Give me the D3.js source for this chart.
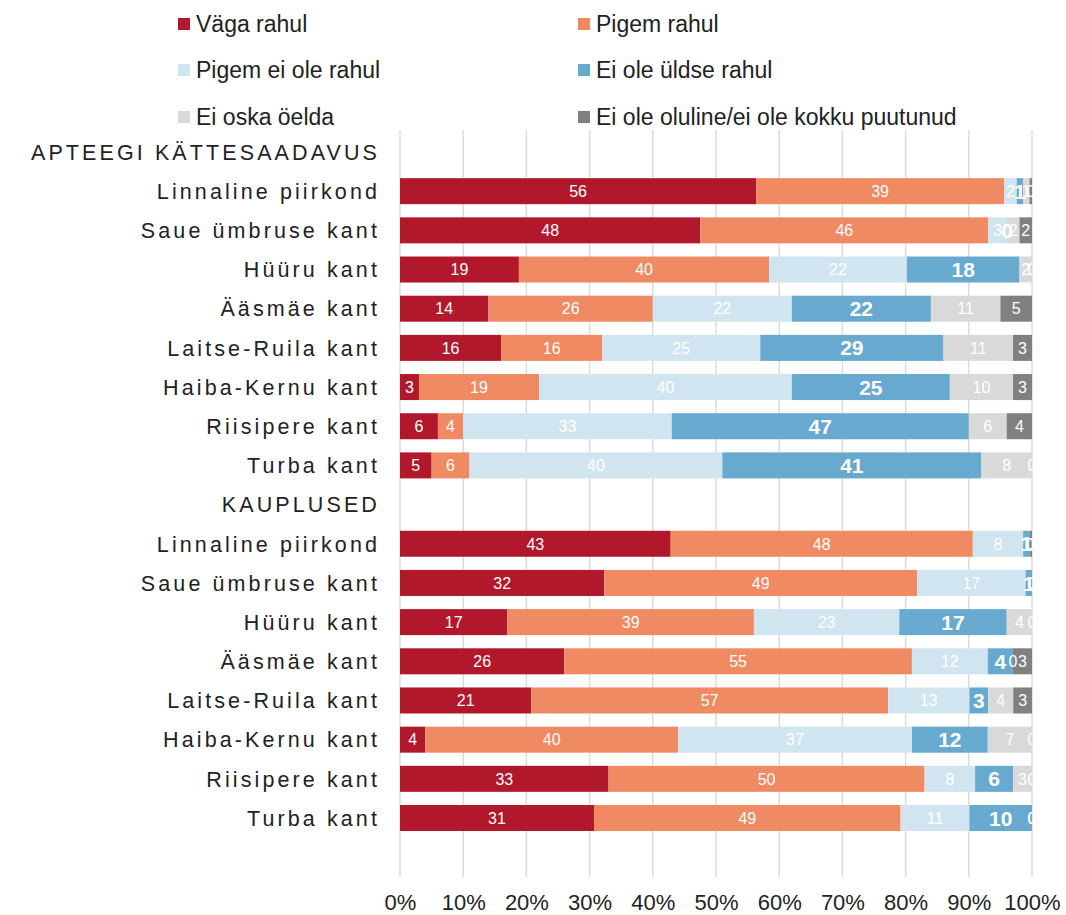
<!DOCTYPE html>
<html><head><meta charset="utf-8">
<script src="https://cdn.jsdelivr.net/npm/d3@7"></script>
<style>
html,body{margin:0;padding:0;background:#fff;}
svg{display:block;font-family:"Liberation Sans",Arial,Helvetica,sans-serif;}
</style></head>
<body><svg id="chart" width="1066" height="915"></svg>
<script>
const seriesNames = ["Väga rahul","Pigem rahul","Pigem ei ole rahul","Ei ole üldse rahul","Ei oska öelda","Ei ole oluline/ei ole kokku puutunud"];
const seriesColors = ["#b2182b","#ef8a62","#d1e5f0","#67a9cf","#d9d9d9","#808080"];
const rowLabels = ["APTEEGI KÄTTESAADAVUS","Linnaline piirkond","Saue ümbruse kant","Hüüru kant","Ääsmäe kant","Laitse-Ruila kant","Haiba-Kernu kant","Riisipere kant","Turba kant",
  "KAUPLUSED","Linnaline piirkond","Saue ümbruse kant","Hüüru kant","Ääsmäe kant","Laitse-Ruila kant","Haiba-Kernu kant","Riisipere kant","Turba kant"];
const apteekValues = [
  [56,39,2,1,1,0.4],
  [48,46,3,0,2,2],
  [19,40,22,18,2,0],
  [14,26,22,22,11,5],
  [16,16,25,29,11,3],
  [3,19,40,25,10,3],
  [6,4,33,47,6,4],
  [5,6,40,41,8,0]
];
const kauplusValues = [
  [43,48,8,1,0,0.4],
  [32,49,17,1,0,0],
  [17,39,23,17,4,0],
  [26,55,12,4,0,3],
  [21,57,13,3,4,3],
  [4,40,37,12,7,0],
  [33,50,8,6,3,0],
  [31,49,11,10,0,0]
];
const tickValues = [0,0.1,0.2,0.3,0.4,0.5,0.6,0.7,0.8,0.9,1];

// null = section header row
const rowValues = [null, ...apteekValues, null, ...kauplusValues];

const svg = d3.select("#chart");
const ids = rowLabels.map((d,i)=>i);
const x = d3.scaleLinear().domain([0,1]).range([400,1032]);
const y = d3.scaleBand().domain(ids).range([132.4,837.6]).paddingInner(0.336).paddingOuter(0.168);

// gridlines
svg.append("g").selectAll("line").data(tickValues).join("line")
  .attr("x1",d=>x(d)).attr("x2",d=>x(d)).attr("y1",130).attr("y2",877)
  .attr("stroke","#dcdcdc").attr("stroke-width",1.5);

// x axis labels
const xAxis = d3.axisBottom(x).tickValues(tickValues).tickFormat(d3.format(".0%")).tickSize(0).tickPadding(0);
const gx = svg.append("g").attr("transform","translate(0,894)").call(xAxis);
gx.select(".domain").remove();
gx.selectAll("text").attr("font-size",22).attr("fill","#222").attr("font-family","Liberation Sans, Arial, sans-serif");

// category labels
svg.append("g").selectAll("text").data(ids).join("text")
  .attr("x",380).attr("y",d=>y(d)+y.bandwidth()/2)
  .attr("dy","0.36em").attr("text-anchor","end")
  .attr("font-size",21.5).attr("letter-spacing","3.1px").attr("fill","#222")
  .text(d=>rowLabels[d]);

// stacked data
const segs = [];
rowValues.forEach((vals,i)=>{
  if(!vals) return;
  const total = d3.sum(vals);
  let acc = 0;
  vals.forEach((v,k)=>{
    segs.push({row:i, k, v, x0:acc/total, x1:(acc+v)/total});
    acc += v;
  });
});

svg.append("defs").append("clipPath").attr("id","clip")
  .append("rect").attr("x",395).attr("y",120).attr("width",1034-395).attr("height",740);

const gBars = svg.append("g");
gBars.selectAll("rect").data(segs).join("rect")
  .attr("x",d=>x(d.x0)).attr("width",d=>Math.max(0,x(d.x1)-x(d.x0)))
  .attr("y",d=>y(d.row)).attr("height",y.bandwidth())
  .attr("fill",d=>seriesColors[d.k]);

const gLab = svg.append("g").attr("clip-path","url(#clip)");
gLab.selectAll("text").data(segs).join("text")
  .attr("x",d=>(x(d.x0)+x(d.x1))/2).attr("y",d=>y(d.row)+y.bandwidth()/2)
  .attr("dy","0.36em").attr("text-anchor","middle")
  .attr("fill","#fff")
  .attr("font-size",d=>d.k===3?21:16)
  .attr("font-weight",d=>d.k===3?"bold":"normal")
  .text(d=>Math.round(d.v));

// legend
const legPos = [[178,24],[578,24],[178,70],[578,70],[178,117],[578,117]];
const leg = svg.append("g").selectAll("g").data(seriesNames).join("g")
  .attr("transform",(d,i)=>`translate(${legPos[i][0]},${legPos[i][1]})`);
leg.append("rect").attr("x",0).attr("y",-6).attr("width",12).attr("height",12).attr("fill",(d,i)=>seriesColors[i]);
leg.append("text").attr("x",18).attr("y",0).attr("dy","0.36em").attr("font-size",23).attr("fill","#222").text(d=>d);
</script></body></html>
